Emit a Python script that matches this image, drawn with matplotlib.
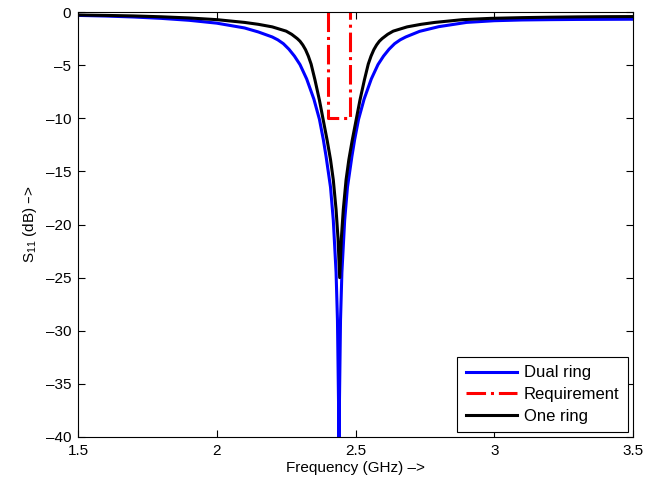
import matplotlib
matplotlib.use("Agg")
import matplotlib.pyplot as plt

plt.rcParams['font.family'] = ['Liberation Sans', 'DejaVu Sans']
plt.rcParams['mathtext.default'] = 'regular'

# Dual ring response
freq_dual = [1.5, 1.6, 1.7, 1.8, 1.9, 2.0, 2.1, 2.15, 2.2, 2.22, 2.24, 2.26,
             2.28, 2.30, 2.324, 2.35, 2.37, 2.384, 2.394, 2.41, 2.42, 2.43,
             2.435, 2.4405, 2.446, 2.451, 2.461, 2.471, 2.487, 2.497, 2.511,
             2.531, 2.557, 2.581, 2.601, 2.621, 2.641, 2.661, 2.681, 2.731,
             2.8, 2.9, 3.0, 3.1, 3.2, 3.3, 3.4, 3.5]
s11_dual = [-0.32, -0.38, -0.47, -0.6, -0.78, -1.05, -1.5, -1.88, -2.35,
            -2.62, -2.98, -3.5, -4.15, -4.95, -6.3, -8.2, -10.1, -12.0, -13.6,
            -16.5, -19.6, -24.5, -29.0, -40.0, -29.0, -24.5, -19.6, -16.5,
            -13.6, -12.0, -10.1, -8.2, -6.3, -4.95, -4.15, -3.5, -2.98, -2.62,
            -2.35, -1.82, -1.38, -0.98, -0.82, -0.75, -0.72, -0.7, -0.69,
            -0.68]

# Single ring response
freq_one = [1.5, 1.6, 1.7, 1.8, 1.9, 2.0, 2.1, 2.15, 2.2, 2.25, 2.27, 2.29,
            2.30, 2.31, 2.32, 2.33, 2.34, 2.354, 2.37, 2.384, 2.398, 2.41,
            2.42, 2.43, 2.437, 2.443, 2.449, 2.456, 2.466, 2.476, 2.488,
            2.502, 2.516, 2.532, 2.546, 2.556, 2.566, 2.576, 2.586, 2.596,
            2.616, 2.636, 2.686, 2.736, 2.786, 2.886, 2.986, 3.1, 3.2, 3.3,
            3.4, 3.5]
s11_one = [-0.28, -0.32, -0.37, -0.45, -0.56, -0.72, -0.98, -1.16, -1.4,
           -1.8, -2.1, -2.5, -2.75, -3.1, -3.55, -4.15, -4.9, -6.4, -8.3,
           -10.2, -12.1, -13.9, -15.8, -18.6, -21.3, -25.0, -21.3, -18.6,
           -15.8, -13.9, -12.1, -10.2, -8.3, -6.4, -4.9, -4.15, -3.55, -3.1,
           -2.75, -2.5, -2.1, -1.8, -1.4, -1.16, -0.98, -0.72, -0.6, -0.53,
           -0.49, -0.46, -0.44, -0.43]

# Band requirement mask
req_freq = [2.4, 2.4, 2.48, 2.48]
req_s11 = [0, -10, -10, 0]

xticks = [1.5, 2, 2.5, 3, 3.5]
yticks = [-40, -35, -30, -25, -20, -15, -10, -5, 0]

fig = plt.figure(figsize=(6.46, 4.87), dpi=100)
ax = fig.add_axes([78 / 646, 50 / 487, 555 / 646, 425 / 487])

ax.plot(freq_dual, s11_dual, color='#0000ff', lw=2.2, label='Dual ring')
ax.plot(req_freq, req_s11, color='#ff0000', lw=2.2, ls='-.', label='Requirement')
ax.plot(freq_one, s11_one, color='black', lw=2.2, label='One ring')

ax.set_xlim(1.5, 3.5)
ax.set_ylim(-40, 0)
ax.set_xticks(xticks)
ax.set_xticklabels(['1.5', '2', '2.5', '3', '3.5'])
ax.set_yticks(yticks)
ax.set_yticklabels([str(v).replace('-', '\u2013') for v in yticks])
ax.tick_params(direction='in', top=True, right=True, length=5, width=0.8,
               labelsize=11, pad=5)
for sp in ax.spines.values():
    sp.set_linewidth(0.8)

ax.set_xlabel('Frequency (GHz) \u2013>', fontsize=11, labelpad=2)
ax.set_ylabel('S$_{11}$ (dB) \u2013>', fontsize=11, labelpad=5)

leg = ax.legend(loc='lower right', fontsize=12, frameon=True, fancybox=False,
                edgecolor='black', framealpha=1, borderaxespad=0.3,
                handlelength=3.1, labelspacing=0.4, borderpad=0.5,
                handletextpad=0.4)
leg.get_frame().set_linewidth(0.8)

fig.savefig('out.png', dpi=100)
